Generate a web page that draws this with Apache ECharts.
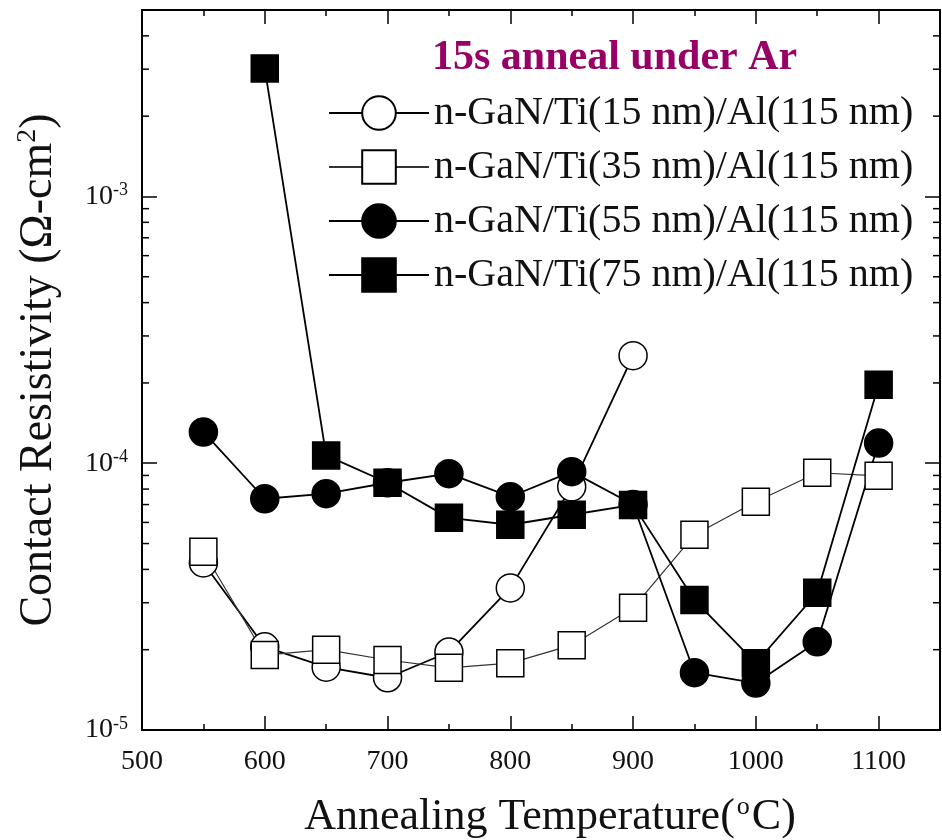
<!DOCTYPE html>
<html>
<head>
<meta charset="utf-8">
<script src="https://cdn.jsdelivr.net/npm/echarts@6/dist/echarts.min.js"></script>
<style>html,body{margin:0;padding:0;background:#fff;}#c{width:942px;height:840px;}</style>
</head>
<body>
<div id="c"></div>
<script>
// ---- data ----
const temps15 = [550, 600, 650, 700, 750, 800, 850, 900];
const ti15 = [4.23e-5, 2.05e-5, 1.72e-5, 1.57e-5, 1.96e-5, 3.41e-5, 8.16e-5, 2.53e-4];

const temps35 = [550, 600, 650, 700, 750, 800, 850, 900, 950, 1000, 1050, 1100];
const ti35 = [4.66e-5, 1.91e-5, 2.00e-5, 1.83e-5, 1.71e-5, 1.78e-5, 2.08e-5, 2.87e-5, 5.39e-5, 7.17e-5, 9.21e-5, 8.97e-5];

const temps55 = [550, 600, 650, 700, 750, 800, 850, 900, 950, 1000, 1050, 1100];
const ti55 = [1.31e-4, 7.36e-5, 7.69e-5, 8.45e-5, 9.14e-5, 7.49e-5, 9.30e-5, 7.00e-5, 1.64e-5, 1.50e-5, 2.14e-5, 1.19e-4];

const temps75 = [600, 650, 700, 750, 800, 850, 900, 950, 1000, 1050, 1100];
const ti75 = [3.02e-3, 1.07e-4, 8.45e-5, 6.24e-5, 5.88e-5, 6.41e-5, 6.98e-5, 3.07e-5, 1.78e-5, 3.27e-5, 1.97e-4];

const seriesNames = [
  'n-GaN/Ti(15 nm)/Al(115 nm)',
  'n-GaN/Ti(35 nm)/Al(115 nm)',
  'n-GaN/Ti(55 nm)/Al(115 nm)',
  'n-GaN/Ti(75 nm)/Al(115 nm)'
];
const legendTitle = '15s anneal under Ar';
const xTickValues = [500, 600, 700, 800, 900, 1000, 1100];
const yMinorTicks = [2e-5, 3e-5, 4e-5, 5e-5, 6e-5, 7e-5, 8e-5, 9e-5,
                     2e-4, 3e-4, 4e-4, 5e-4, 6e-4, 7e-4, 8e-4, 9e-4,
                     2e-3, 3e-3, 4e-3];

// ---- chart ----
const SERIF = '"Liberation Serif", "DejaVu Serif", serif';
const zip = (xs, ys) => xs.map((x, i) => [x, ys[i]]);
const chart = echarts.init(document.getElementById('c'), null, {renderer: 'canvas'});

const X_MIN = 500, X_MAX = 1150, Y_MIN = 1e-5, Y_MAX = 5e-3;

function lineSeries(name, data, symbol, size, filled, lw, lc) {
  return {
    name, type: 'line', data,
    symbol, symbolSize: size,
    lineStyle: {color: lc, width: lw},
    itemStyle: {color: filled ? '#000' : '#fff', borderColor: '#000', borderWidth: 1.5},
    z: 3
  };
}

const option = {
  animation: false,
  backgroundColor: '#fff',
  title: {
    text: legendTitle, left: 432, top: 37, padding: 0,
    textStyle: {fontFamily: SERIF, fontWeight: 'bold', fontSize: 42, lineHeight: 42, color: '#990066'}
  },
  legend: {
    data: seriesNames,
    orient: 'vertical', left: 328, top: 93, padding: 0,
    itemWidth: 100, itemHeight: 42, itemGap: 14,
    textStyle: {fontFamily: SERIF, fontSize: 40, color: '#111'},
    selectedMode: false
  },
  grid: {left: 142, right: 2, top: 10, bottom: 110, containLabel: false, outerBoundsMode: 'none'},
  xAxis: [
    {
      type: 'value', position: 'bottom', min: X_MIN, max: X_MAX, interval: 100,
      axisLine: {lineStyle: {color: '#000', width: 2}},
      axisTick: {inside: true, length: 14, lineStyle: {color: '#000', width: 1.5}},
      splitLine: {show: false},
      axisLabel: {
        margin: 18, fontFamily: SERIF, fontSize: 28, color: '#111',
        formatter: v => (xTickValues.indexOf(v) >= 0 ? String(v) : '')
      },
      name: '{a|Annealing Temperature(}{s|o}{a|C)}',
      nameLocation: 'middle', nameGap: 64,
      nameTextStyle: {
        padding: [0, 0, 0, 18],
        rich: {
          a: {fontFamily: SERIF, fontSize: 44, color: '#111', lineHeight: 46},
          s: {fontFamily: SERIF, fontSize: 26, color: '#111', verticalAlign: 'top', lineHeight: 46, padding: [0, 2, 0, 2]}
        }
      }
    },
    {
      type: 'value', position: 'bottom', min: X_MIN, max: X_MAX, interval: 50,
      axisLine: {show: false},
      axisTick: {inside: true, length: 6, lineStyle: {color: '#000', width: 1.5}},
      axisLabel: {show: false}, splitLine: {show: false}
    },
    {
      type: 'value', position: 'top', min: X_MIN, max: X_MAX, interval: 100,
      axisLine: {lineStyle: {color: '#000', width: 2}},
      axisTick: {inside: true, length: 14, lineStyle: {color: '#000', width: 1.5}},
      axisLabel: {show: false}, splitLine: {show: false}
    },
    {
      type: 'value', position: 'top', min: X_MIN, max: X_MAX, interval: 50,
      axisLine: {show: false},
      axisTick: {inside: true, length: 6, lineStyle: {color: '#000', width: 1.5}},
      axisLabel: {show: false}, splitLine: {show: false}
    }
  ],
  yAxis: [
    {
      type: 'log', logBase: 10, position: 'left', min: Y_MIN, max: Y_MAX,
      axisLine: {show: true, lineStyle: {color: '#000', width: 2}},
      axisTick: {show: true, inside: true, length: 15, lineStyle: {color: '#000', width: 1.5}},
      splitLine: {show: false},
      axisLabel: {
        margin: 14, fontFamily: SERIF, fontSize: 28, color: '#111',
        formatter: v => {
          const e = Math.log10(v);
          if (Math.abs(e - Math.round(e)) > 1e-6) return '';
          return '{b|10}{s|' + Math.round(e) + '}';
        },
        rich: {
          b: {fontFamily: SERIF, fontSize: 28, color: '#111', lineHeight: 30},
          s: {fontFamily: SERIF, fontSize: 18, color: '#111', verticalAlign: 'top', lineHeight: 22}
        }
      },
      name: '{a|Contact Resistivity (Ω-cm}{s|2}{a|)}',
      nameLocation: 'middle', nameRotate: 90, nameGap: 78,
      nameTextStyle: {
        rich: {
          a: {fontFamily: SERIF, fontSize: 46, color: '#111', lineHeight: 50},
          s: {fontFamily: SERIF, fontSize: 28, color: '#111', verticalAlign: 'top', lineHeight: 50}
        }
      }
    },
    {
      type: 'log', logBase: 10, position: 'right', min: Y_MIN, max: Y_MAX,
      axisLine: {show: true, lineStyle: {color: '#000', width: 2}},
      axisTick: {show: true, inside: true, length: 15, lineStyle: {color: '#000', width: 1.5}},
      axisLabel: {show: false}, splitLine: {show: false}
    }
  ],
  series: [
    lineSeries(seriesNames[0], zip(temps15, ti15), 'circle', 28, false, 1.8, '#000'),
    lineSeries(seriesNames[1], zip(temps35, ti35), 'rect', 27, false, 1.2, '#333'),
    lineSeries(seriesNames[2], zip(temps55, ti55), 'circle', 28, true, 1.8, '#000'),
    lineSeries(seriesNames[3], zip(temps75, ti75), 'rect', 27, true, 1.8, '#000'),
    {
      name: 'yMinorTicks', type: 'custom', silent: true, clip: false, z: 1,
      data: yMinorTicks.map(v => [X_MIN, v]),
      encode: {x: 0, y: 1},
      renderItem: (params, api) => {
        const v = api.value(1);
        const pL = api.coord([X_MIN, v]);
        const pR = api.coord([X_MAX, v]);
        const st = {stroke: '#000', lineWidth: 1.5};
        return {
          type: 'group',
          children: [
            {type: 'line', shape: {x1: pL[0], y1: pL[1], x2: pL[0] + 7, y2: pL[1]}, style: st},
            {type: 'line', shape: {x1: pR[0] - 7, y1: pR[1], x2: pR[0], y2: pR[1]}, style: st}
          ]
        };
      }
    }
  ]
};
chart.setOption(option);
</script>
</body>
</html>
